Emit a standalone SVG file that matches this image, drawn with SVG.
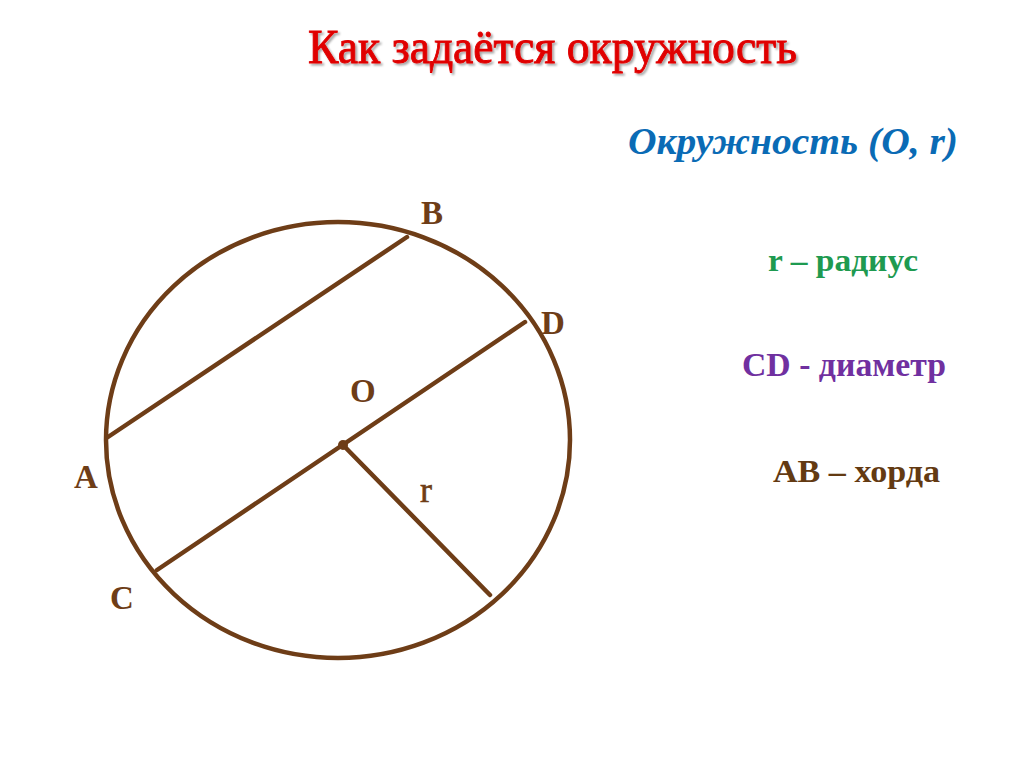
<svg xmlns="http://www.w3.org/2000/svg" width="1024" height="767" viewBox="0 0 1024 767">
<defs>
<filter id="sh" x="-5%" y="-20%" width="110%" height="150%"><feDropShadow dx="2" dy="2" stdDeviation="1.2" flood-color="#000" flood-opacity="0.35"/></filter>
</defs>
<style>
.ser{font-family:"Liberation Serif","Times New Roman",serif;font-weight:bold}
.reg{font-family:"Liberation Serif","Times New Roman",serif;font-weight:normal}
.geo{fill:none;stroke:#6E3D17;stroke-width:4.5;stroke-linecap:round}
.lbl{font-family:"Liberation Serif","Times New Roman",serif;font-weight:bold;font-size:33px;fill:#6E3D17}
</style>
<rect width="1024" height="767" fill="#fff"/>
<g id="title"><text class="reg" x="308" y="63" font-size="48" fill="#E00000" stroke="#E00000" stroke-width="0.9" filter="url(#sh)" textLength="489" lengthAdjust="spacingAndGlyphs">Как задаётся окружность</text></g>
<g id="subtitle"><text class="ser" x="628" y="154" font-size="38" font-style="italic" fill="#0A6BB5" textLength="330" lengthAdjust="spacingAndGlyphs">Окружность (О, r)</text></g>
<g id="def-r"><text class="ser" x="768" y="271" font-size="32" fill="#1E9A50" textLength="150" lengthAdjust="spacingAndGlyphs">r – радиус</text></g>
<g id="def-cd"><text class="ser" x="742" y="376" font-size="33" fill="#7030A0" textLength="204" lengthAdjust="spacingAndGlyphs">CD - диаметр</text></g>
<g id="def-ab"><text class="ser" x="773" y="482" font-size="32" fill="#633A12" textLength="167" lengthAdjust="spacingAndGlyphs">АВ – хорда</text></g>
<g id="circle"><ellipse class="geo" cx="338" cy="440" rx="232" ry="218"/></g>
<g id="connectors">
<line class="geo" x1="108" y1="437" x2="407" y2="237"/>
<line class="geo" x1="157" y1="570" x2="525" y2="322"/>
<line class="geo" x1="343" y1="445" x2="490" y2="595"/>
</g>
<g id="center"><circle cx="343" cy="445" r="5" fill="#6E3D17"/></g>
<g id="labels">
<text class="lbl" x="421" y="224">B</text>
<text class="lbl" x="541" y="334">D</text>
<text class="lbl" x="350" y="402">O</text>
<text class="lbl" x="74" y="488">A</text>
<text class="lbl" x="110" y="609">C</text>
<text class="reg" x="420" y="502" font-size="36" fill="#6E3D17" stroke="#6E3D17" stroke-width="0.6">r</text>
</g>
</svg>
